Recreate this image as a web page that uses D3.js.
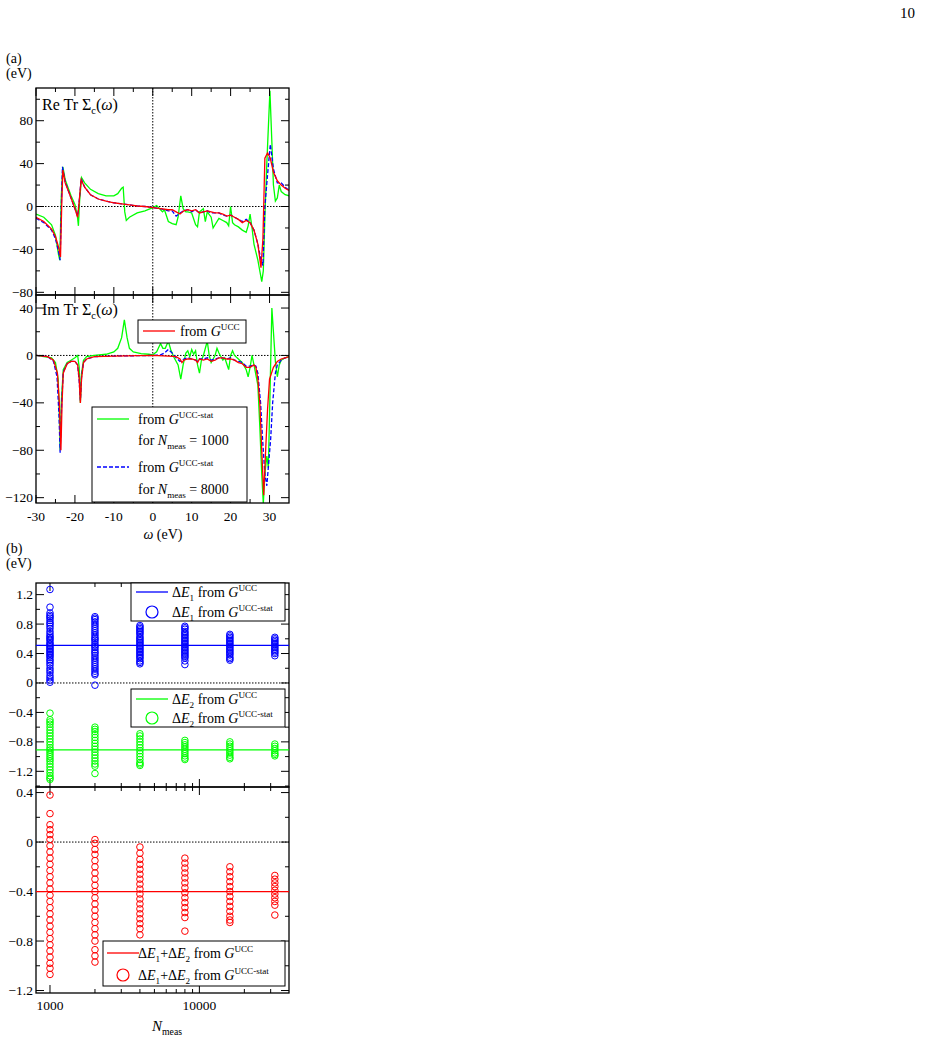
<!DOCTYPE html>
<html><head><meta charset="utf-8">
<script src="https://cdn.jsdelivr.net/npm/d3@7"></script>
<style>body{margin:0;background:#fff}svg{font-family:"Liberation Serif","Times New Roman",serif}</style>
</head><body><svg id="c" width="925" height="1038"></svg>
<script>
// ---- Data: panel (a) ----
const reUCC=[[-30,-10],[-28,-14],[-26,-21],[-25,-28],[-24.2,-38],[-23.7,-47],[-23.4,0],[-23.1,34],[-22.5,22],[-21,8],[-20,-2],[-19.3,-10],[-18.9,5],[-18.4,25],[-17.5,18],[-16,11],[-14,7],[-12,5],[-10,3.5],[-8,2.5],[-6,1.5],[-4,0.5],[-2,0],[0,-1],[2,-2],[4,-3],[5,-3],[6,-5],[7,-7],[8,-4],[9,-3],[10,-4],[11,-3],[12,-6],[13,-5],[14,-4],[15,-5],[16,-6],[17,-6],[18,-7],[19,-9],[20,-8],[21,-10],[22,-12],[23,-15],[24,-13],[25,-15],[26,-22],[27,-35],[27.8,-57],[28.3,-30],[28.8,45],[29.5,50],[30.2,45],[31,32],[32,24],[33,20],[34,17],[35,15]];
const reStat8000=[[-30,-11],[-28,-15],[-26,-22],[-25,-30],[-24.2,-42],[-23.8,-50],[-23.5,0],[-23.2,37],[-22.5,23],[-21,8],[-20,-2],[-19.3,-9],[-18.9,5],[-18.4,26],[-17.5,18],[-16,11],[-14,7],[-12,5],[-10,3.5],[-8,2.5],[-6,1.5],[-4,0.5],[-2,0],[0,-1],[2,-2],[4,-4],[5,-4],[6,-9],[7,-6],[8,-4],[9,-3],[10,-5],[11,-3],[12,-6],[13,-5],[14,-4],[15,-6],[16,-6],[17,-6],[18,-8],[19,-9],[20,-8],[21,-10],[22,-12],[23,-14],[24,-12],[25,-15],[26,-22],[27,-35],[27.8,-50],[28.3,-55],[28.8,0],[29.5,30],[30.2,58],[31,35],[32,22],[33,22],[34,18],[35,15]];
const reStat1000=[[-30,-7],[-28,-10],[-26,-17],[-25,-27],[-24.2,-45],[-23.9,-50],[-23.5,10],[-23.1,37],[-22.5,25],[-21,10],[-20,2],[-19.4,-8],[-19.1,-18],[-18.8,5],[-18.3,27],[-17.5,22],[-16,16],[-14,12],[-12,10],[-10,10],[-9,12],[-8,17],[-7.6,18],[-7.2,-5],[-6.8,-13],[-6,-10],[-4,-6],[-2,-4],[0,-1],[1,1],[1.5,-1],[2,-3],[2.5,-5],[3,-3],[4,-14],[5,-16],[6,-17],[6.5,-10],[7.2,10],[7.8,-2],[8.5,-5],[9,-5],[10,-6],[11,-17],[11.5,-19],[12,-5],[13,-2],[13.5,-14],[14,-5],[15,-10],[15.5,-20],[16,-17],[17,-11],[18,-13],[19,-15],[19.5,-18],[20,0],[20.5,-15],[21,-17],[22,-19],[23,-22],[24,-24],[24.5,-18],[25,-7],[25.5,-20],[26,-35],[27,-50],[28,-70],[28.4,-60],[28.8,-10],[29.3,40],[30.1,108],[30.6,60],[31,20],[31.5,5],[32,8],[32.5,20],[33,14],[34,11],[35,10]];
const imUCC=[[-30,0],[-27,-1],[-25.5,-4],[-24.5,-15],[-24,-40],[-23.6,-80],[-23.3,-40],[-23,-15],[-22,-7],[-21,-5],[-20,-5],[-19.3,-8],[-18.9,-20],[-18.6,-40],[-18.3,-20],[-17.8,-6],[-17,-3],[-15,-1],[-10,-0.5],[0,0],[4,-0.5],[6,-1],[7,-3],[7.5,-6],[8,-4],[9,-3],[10,-3],[11,-4],[11.5,-6],[12,-3],[13,-4],[14,-3],[15,-5],[16,-4],[17,-2],[18,-2],[19,-3],[20,-3],[21,-4],[22,-6],[23,-7],[24,-10],[25,-10],[26,-8],[26.5,-10],[27,-20],[27.5,-40],[28,-80],[28.5,-118],[29,-80],[29.5,-45],[30,-20],[31,-10],[32,-5],[33,-3],[34,-2],[35,-1]];
const imStat8000=[[-30,0],[-27,-1],[-25.5,-5],[-24.6,-18],[-24.1,-50],[-23.8,-82],[-23.4,-40],[-23,-14],[-22,-7],[-21,-5],[-20,-5],[-19.3,-8],[-18.9,-22],[-18.6,-38],[-18.3,-18],[-17.8,-6],[-17,-3],[-15,-1],[-10,-0.5],[0,0],[2,0.5],[3,2],[4,5],[5,2],[6,-2],[7,-5],[7.5,-4],[8,-3],[9,-2],[10,-3],[11,-4],[11.5,-5],[12,-3],[13,-3],[14,-2],[15,-4],[16,-3],[17,-2],[18,-2],[19,-3],[20,-2],[21,-4],[22,-5],[23,-6],[24,-9],[25,-9],[26,-8],[26.5,-9],[27,-15],[27.7,-40],[28.2,-70],[28.8,-100],[29.3,-110],[29.8,-90],[30.3,-70],[30.8,-40],[31.5,-15],[32,-8],[33,-4],[34,-2],[35,-1]];
const imStat1000=[[-30,0],[-26,-2],[-25,-6],[-24.3,-20],[-24,-50],[-23.8,-80],[-23.5,-40],[-23,-12],[-22,-6],[-21,-4],[-20,-2],[-19.3,0],[-18.9,-10],[-18.6,-40],[-18.3,-15],[-17.8,-4],[-17,-1],[-15,0],[-12,1],[-10,3],[-9,6],[-8,15],[-7.3,30],[-6.6,15],[-6,6],[-5,3],[-3,1.5],[-1,1],[0,0.5],[1,3],[2,10],[2.6,6],[3.2,6],[4,12],[4.6,5],[5.5,-2],[6.5,-8],[7.2,-20],[7.8,-8],[8.5,2],[9,4],[9.5,-1],[10,5],[10.5,1],[11,4],[11.5,-8],[12,-15],[12.5,-4],[13,0],[14,12],[14.5,0],[15,-6],[16,0],[16.5,6],[17,2],[18,-4],[18.5,-2],[19,-7],[19.5,-12],[20,0],[20.5,4],[21,0],[22,-3],[23,-6],[24,-12],[24.5,-18],[25,-10],[25.5,0],[26,-8],[27,-25],[27.5,-60],[28,-100],[28.4,-125],[28.8,-100],[29.3,-85],[29.7,-95],[30.2,-20],[30.6,40],[31,20],[31.5,-5],[32,-18],[32.5,-8],[33,-4],[34,-2],[35,-1]];
const reTicks=[-80,-40,0,40,80];
const imTicks=[-120,-80,-40,0,40];
const omegaTicks=[-30,-20,-10,0,10,20,30];
// ---- Data: panel (b) ----
const nMeas=[1000,2000,4000,8000,16000,32000];
const dE1UCC=0.51, dE2UCC=-0.91, dSumUCC=-0.40;
const dE1Stat=[[1.27,1.03,0.95,0.92,0.9,0.88,0.85,0.82,0.8,0.77,0.74,0.7,0.67,0.64,0.62,0.6,0.58,0.55,0.53,0.51,0.49,0.47,0.45,0.43,0.41,0.39,0.37,0.35,0.32,0.3,0.27,0.24,0.2,0.17,0.14,0.1,0.07,0.04,0.01],
[0.9,0.88,0.86,0.83,0.8,0.77,0.74,0.71,0.68,0.65,0.62,0.6,0.58,0.55,0.52,0.5,0.48,0.45,0.42,0.4,0.37,0.34,0.31,0.28,0.25,0.22,0.19,0.16,0.13,0.11,-0.03],
[0.78,0.76,0.74,0.72,0.7,0.68,0.66,0.63,0.61,0.59,0.57,0.55,0.53,0.51,0.49,0.47,0.45,0.43,0.41,0.39,0.37,0.35,0.33,0.3,0.28,0.26],
[0.77,0.75,0.73,0.7,0.68,0.66,0.64,0.62,0.6,0.58,0.56,0.54,0.52,0.5,0.48,0.46,0.44,0.42,0.4,0.38,0.36,0.34,0.3,0.25],
[0.66,0.64,0.62,0.6,0.58,0.56,0.54,0.52,0.5,0.48,0.46,0.44,0.42,0.4,0.38,0.35,0.33,0.31],
[0.62,0.6,0.58,0.56,0.54,0.52,0.5,0.48,0.46,0.44,0.42,0.4,0.37]];
const dE2Stat=[[-0.41,-0.5,-0.53,-0.56,-0.6,-0.64,-0.68,-0.72,-0.76,-0.8,-0.84,-0.88,-0.91,-0.94,-0.97,-1.0,-1.03,-1.06,-1.1,-1.14,-1.18,-1.22,-1.26,-1.29,-1.31],
[-0.6,-0.63,-0.66,-0.7,-0.74,-0.78,-0.82,-0.86,-0.9,-0.94,-0.98,-1.02,-1.06,-1.1,-1.13,-1.23],
[-0.69,-0.72,-0.76,-0.8,-0.84,-0.88,-0.92,-0.96,-1.0,-1.04,-1.08,-1.1,-1.12],
[-0.78,-0.81,-0.84,-0.87,-0.9,-0.93,-0.96,-0.99,-1.02,-1.04],
[-0.8,-0.83,-0.86,-0.89,-0.92,-0.95,-0.98,-1.01,-1.03],
[-0.83,-0.86,-0.89,-0.92,-0.95,-0.97,-0.99]];
const dSumStat=[[0.38,0.23,0.14,0.1,0.06,0.02,-0.03,-0.08,-0.13,-0.18,-0.23,-0.28,-0.33,-0.38,-0.43,-0.48,-0.53,-0.58,-0.63,-0.68,-0.73,-0.78,-0.83,-0.88,-0.93,-0.98,-1.02,-1.07],
[0.02,-0.01,-0.06,-0.1,-0.15,-0.2,-0.25,-0.3,-0.35,-0.4,-0.45,-0.5,-0.55,-0.6,-0.65,-0.7,-0.75,-0.8,-0.87,-0.92,-0.97],
[-0.04,-0.09,-0.14,-0.18,-0.22,-0.26,-0.3,-0.34,-0.38,-0.42,-0.46,-0.5,-0.54,-0.58,-0.62,-0.66,-0.7,-0.75],
[-0.13,-0.17,-0.21,-0.25,-0.29,-0.33,-0.37,-0.41,-0.45,-0.49,-0.53,-0.57,-0.61,-0.72],
[-0.2,-0.24,-0.28,-0.32,-0.36,-0.4,-0.44,-0.48,-0.52,-0.56,-0.6,-0.63,-0.65],
[-0.27,-0.3,-0.33,-0.36,-0.39,-0.42,-0.45,-0.48,-0.51,-0.59]];
const e12Ticks=[-1.2,-0.8,-0.4,0,0.4,0.8,1.2];
const sumTicks=[-1.2,-0.8,-0.4,0,0.4];
const nTicks=[1000,10000];

const svg=d3.select("#c");
const L=36,R=289,FS=13.5;
const GREEN="#00ff00",RED="#ff0000",BLUE="#0000ff";
function txt(x,y,s,opt={}){return svg.append("text").attr("x",x).attr("y",y).attr("font-size",opt.fs||FS).attr("text-anchor",opt.a||"start").text(s);}
txt(915,18,"10",{a:"end",fs:15});
txt(6,63,"(a)",{fs:14});txt(6,78,"(eV)",{fs:14});
txt(6,553,"(b)",{fs:14});txt(6,568,"(eV)",{fs:14});

function frame(x,y,ticks,minor,xticks,xminor,clipId){
  const g=svg.append("g");
  const [t,b]=[y.range()[1],y.range()[0]];
  svg.append("clipPath").attr("id",clipId).append("rect").attr("x",L).attr("y",t).attr("width",R-L).attr("height",b-t);
  minor.forEach(v=>{const yy=y(v);g.append("line").attr("x1",L).attr("x2",L+4).attr("y1",yy).attr("y2",yy).attr("stroke","#000");g.append("line").attr("x1",R).attr("x2",R-4).attr("y1",yy).attr("y2",yy).attr("stroke","#000");});
  ticks.forEach(v=>{const yy=y(v);g.append("line").attr("x1",L).attr("x2",L+8).attr("y1",yy).attr("y2",yy).attr("stroke","#000");g.append("line").attr("x1",R).attr("x2",R-8).attr("y1",yy).attr("y2",yy).attr("stroke","#000");
    g.append("text").attr("x",L-3).attr("y",yy+4.5).attr("text-anchor","end").attr("font-size",FS).text(d3.format("")(v));});
  xticks.forEach(v=>{const xx=x(v);g.append("line").attr("x1",xx).attr("x2",xx).attr("y1",b).attr("y2",b-8).attr("stroke","#000");g.append("line").attr("x1",xx).attr("x2",xx).attr("y1",t).attr("y2",t+8).attr("stroke","#000");});
  xminor.forEach(v=>{const xx=x(v);g.append("line").attr("x1",xx).attr("x2",xx).attr("y1",b).attr("y2",b-4).attr("stroke","#000");g.append("line").attr("x1",xx).attr("x2",xx).attr("y1",t).attr("y2",t+4).attr("stroke","#000");});
  g.append("rect").attr("x",L).attr("y",t).attr("width",R-L).attr("height",b-t).attr("fill","none").attr("stroke","#000").attr("stroke-width",1.3);
}
function hdot(x,y,v){svg.append("line").attr("x1",L).attr("x2",R).attr("y1",y(v)).attr("y2",y(v)).attr("stroke","#000").attr("stroke-dasharray","1.5,1.5");}

// ---- panel (a) ----
const xw=d3.scaleLinear().domain([-30,35]).range([L,R]);
const yRe=d3.scaleLinear().domain([-82.5,110.5]).range([295,88]);
const yIm=d3.scaleLinear().domain([-124.5,51]).range([503,295]);
const line=(y)=>d3.line().x(d=>xw(d[0])).y(d=>y(d[1]));
const minorsRe=d3.range(-80,111,20).filter(v=>v%40);
const minorsIm=d3.range(-120,51,20).filter(v=>v%40);
const xMinor=d3.range(-25,35,10);
[[yRe,reTicks,minorsRe,"cRe",[reStat1000,reStat8000,reUCC]],[yIm,imTicks,minorsIm,"cIm",[imStat1000,imStat8000,imUCC]]].forEach(([y,tk,mn,id,ser])=>{
  hdot(xw,y,0);
  svg.append("line").attr("x1",xw(0)).attr("x2",xw(0)).attr("y1",y.range()[1]).attr("y2",y.range()[0]).attr("stroke","#000").attr("stroke-dasharray","1.5,1.5");
  const cols=[GREEN,BLUE,RED];
  ser.forEach((s,i)=>svg.append("path").attr("d",line(y)(s)).attr("clip-path",`url(#${id})`).attr("fill","none").attr("stroke",cols[i]).attr("stroke-width",1.3).attr("stroke-dasharray",i==1?"4,2":null));
  frame(xw,y,tk,mn,omegaTicks,xMinor,id);
});
omegaTicks.forEach(v=>txt(xw(v),521,v,{a:"middle"}));
const om=svg.append("text").attr("x",163).attr("y",539).attr("text-anchor","middle").attr("font-size",14);
om.append("tspan").attr("font-style","italic").text("ω");om.append("tspan").text(" (eV)");
function supLabel(x,y,parts,fs=14){const t=svg.append("text").attr("x",x).attr("y",y).attr("font-size",fs);
  parts.forEach(p=>{const s=t.append("tspan").text(p.t);if(p.i)s.attr("font-style","italic");if(p.sup)s.attr("font-size",fs*0.65).attr("dy",-6);if(p.sub)s.attr("font-size",fs*0.65).attr("dy",4);if(p.back)s.attr("dy",p.back);});return t;}
supLabel(42,110,[{t:"Re Tr Σ"},{t:"c",sub:1},{t:"(",back:-4},{t:"ω",i:1},{t:")"}],16);
supLabel(42,315,[{t:"Im Tr Σ"},{t:"c",sub:1},{t:"(",back:-4},{t:"ω",i:1},{t:")"}],16);
function box(x,y,w,h){svg.append("rect").attr("x",x).attr("y",y).attr("width",w).attr("height",h).attr("fill","#fff").attr("stroke","#000");}
function lsym(x,y,c,dash){svg.append("line").attr("x1",x).attr("x2",x+32).attr("y1",y).attr("y2",y).attr("stroke",c).attr("stroke-width",1.3).attr("stroke-dasharray",dash?"4,2":null);}
box(138,320,108,23);lsym(143,331,RED);supLabel(180,336,[{t:"from "},{t:"G",i:1},{t:"UCC",sup:1}]);
box(92,407,155,95);
lsym(97,419,GREEN);supLabel(138,424,[{t:"from "},{t:"G",i:1},{t:"UCC-stat",sup:1}]);
supLabel(138,445,[{t:"for "},{t:"N",i:1},{t:"meas",sub:1},{t:" = 1000",back:-4}]);
lsym(97,467,BLUE,1);supLabel(138,472,[{t:"from "},{t:"G",i:1},{t:"UCC-stat",sup:1}]);
supLabel(138,494,[{t:"for "},{t:"N",i:1},{t:"meas",sub:1},{t:" = 8000",back:-4}]);

// ---- panel (b) ----
const xn=d3.scaleLog().domain([806,39800]).range([L,R]);
const yE=d3.scaleLinear().domain([-1.413,1.358]).range([787,583]);
const yS=d3.scaleLinear().domain([-1.22,0.445]).range([993,787]);
const nMinor=[2000,3000,4000,5000,6000,7000,8000,9000,20000,30000];
hdot(xn,yE,0);hdot(xn,yS,0);
function scat(y,data,c,id){nMeas.forEach((n,i)=>data[i].forEach(v=>svg.append("circle").attr("cx",xn(n)).attr("cy",y(v)).attr("r",3.3).attr("fill","none").attr("stroke",c).attr("stroke-width",1).attr("clip-path",`url(#${id})`)));}
function hl(y,v,c){svg.append("line").attr("x1",L).attr("x2",R).attr("y1",y(v)).attr("y2",y(v)).attr("stroke",c).attr("stroke-width",1.2);}
frame(xn,yE,e12Ticks,d3.range(-1.4,1.4,0.4).map(v=>+v.toFixed(1)).filter(v=>v>-1.41&&v<1.36),nTicks,nMinor,"cE");
frame(xn,yS,sumTicks,[-1.0,-0.6,-0.2,0.2],nTicks,nMinor,"cS");
scat(yE,dE1Stat,BLUE,"cE");scat(yE,dE2Stat,GREEN,"cE");scat(yS,dSumStat,RED,"cS");
hl(yE,dE1UCC,BLUE);hl(yE,dE2UCC,GREEN);hl(yS,dSumUCC,RED);
svg.selectAll("rect").filter(function(){return this.getAttribute("fill")=="none";}).raise();
nTicks.forEach(v=>txt(xn(v),1010,v,{a:"middle"}));
supLabel(152,1031,[{t:"N",i:1},{t:"meas",sub:1}],15).attr("text-anchor","start");
function csym(x,y,c){svg.append("circle").attr("cx",x+16).attr("cy",y).attr("r",6).attr("fill","none").attr("stroke",c).attr("stroke-width",1.2);}
box(131,583,154,38);
lsym(136,592,BLUE);supLabel(172,597,[{t:"Δ"},{t:"E",i:1},{t:"1",sub:1},{t:" from ",back:-4},{t:"G",i:1},{t:"UCC",sup:1}]);
csym(136,612,BLUE);supLabel(172,617,[{t:"Δ"},{t:"E",i:1},{t:"1",sub:1},{t:" from ",back:-4},{t:"G",i:1},{t:"UCC-stat",sup:1}]);
box(131,689,154,38);
lsym(136,699,GREEN);supLabel(172,704,[{t:"Δ"},{t:"E",i:1},{t:"2",sub:1},{t:" from ",back:-4},{t:"G",i:1},{t:"UCC",sup:1}]);
csym(136,718,GREEN);supLabel(172,723,[{t:"Δ"},{t:"E",i:1},{t:"2",sub:1},{t:" from ",back:-4},{t:"G",i:1},{t:"UCC-stat",sup:1}]);
box(103,941,182,45);
lsym(107,953,RED);supLabel(138,958,[{t:"Δ"},{t:"E",i:1},{t:"1",sub:1},{t:"+Δ",back:-4},{t:"E",i:1},{t:"2",sub:1},{t:" from ",back:-4},{t:"G",i:1},{t:"UCC",sup:1}]);
csym(107,975,RED);supLabel(138,980,[{t:"Δ"},{t:"E",i:1},{t:"1",sub:1},{t:"+Δ",back:-4},{t:"E",i:1},{t:"2",sub:1},{t:" from ",back:-4},{t:"G",i:1},{t:"UCC-stat",sup:1}]);
</script></body></html>
